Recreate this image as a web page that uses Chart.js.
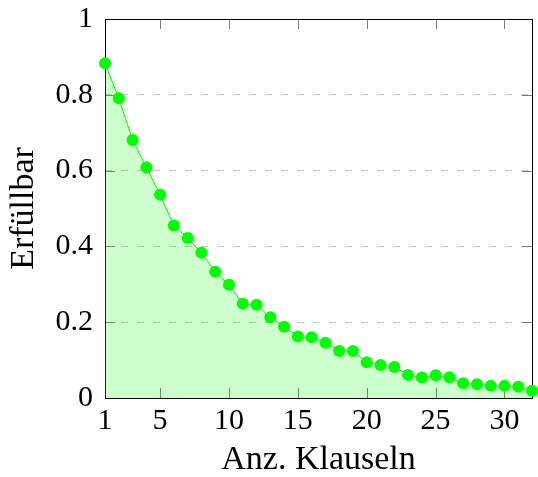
<!DOCTYPE html>
<html>
<head>
<meta charset="utf-8">
<script src="https://cdn.jsdelivr.net/npm/chart.js@4.4.0/dist/chart.umd.min.js"></script>
<style>
body { margin: 0; background: #fff; }
</style>
</head>
<body>
<canvas id="myChart" width="538" height="477"></canvas>
<script>
// Anteil erfuellbarer Formeln je Anzahl Klauseln
var clauses = [1, 2, 3, 4, 5, 6, 7, 8, 9, 10, 11, 12, 13, 14, 15, 16,
               17, 18, 19, 20, 21, 22, 23, 24, 25, 26, 27, 28, 29, 30, 31, 32];
var satisfiable = [0.883, 0.791, 0.681, 0.609, 0.536, 0.455, 0.422, 0.383, 0.333, 0.299, 0.249, 0.246, 0.213, 0.188, 0.162, 0.160,
                   0.146, 0.124, 0.124, 0.094, 0.087, 0.082, 0.061, 0.054, 0.060, 0.055, 0.039, 0.036, 0.032, 0.032, 0.030, 0.019];
var xTicks = [1, 5, 10, 15, 20, 25, 30];
var yTicks = [0, 0.2, 0.4, 0.6, 0.8, 1];

var serif = "'Liberation Serif', 'DejaVu Serif', serif";

var points = [];
for (var i = 0; i < clauses.length; i++) {
    points.push({ x: clauses[i], y: satisfiable[i] });
}

// box round the plot plus the small inward tick marks
var frame = {
    id: 'frame',
    beforeDatasetsDraw: function(chart) {
        var ctx = chart.ctx;
        var a = chart.chartArea;
        var xs = chart.scales.x, ys = chart.scales.y;
        var len = 10;
        ctx.save();
        ctx.strokeStyle = '#7a7a7a';
        ctx.lineWidth = 1;
        ctx.beginPath();
        xTicks.forEach(function(v) {
            if (v === xs.min || v === xs.max) return;
            var px = Math.round(xs.getPixelForValue(v)) + 0.5;
            ctx.moveTo(px, a.bottom); ctx.lineTo(px, a.bottom - len);
            ctx.moveTo(px, a.top); ctx.lineTo(px, a.top + len);
        });
        yTicks.forEach(function(v) {
            if (v === ys.min || v === ys.max) return;
            var py = Math.round(ys.getPixelForValue(v)) + 0.5;
            ctx.moveTo(a.left, py); ctx.lineTo(a.left + len, py);
            ctx.moveTo(a.right, py); ctx.lineTo(a.right - len, py);
        });
        ctx.stroke();
        ctx.strokeStyle = '#000';
        ctx.lineWidth = 1;
        ctx.strokeRect(Math.round(a.left) + 0.5, Math.round(a.top) + 0.5,
                       Math.round(a.right - a.left), Math.round(a.bottom - a.top));
        ctx.restore();
    }
};

var ctx = document.getElementById('myChart').getContext('2d');
var myLineChart = new Chart(ctx, {
    type: 'line',
    data: {
        datasets: [{
            label: 'Erfüllbar',
            data: points,
            borderColor: '#00ff00',
            borderWidth: 1,
            backgroundColor: 'rgba(0, 255, 0, 0.2)',
            fill: 'origin',
            pointRadius: 6,
            pointHoverRadius: 6,
            pointBackgroundColor: '#00ff00',
            pointBorderWidth: 0,
            tension: 0,
            clip: false
        }]
    },
    options: {
        responsive: false,
        animation: false,
        events: [],
        layout: { padding: { top: 19, right: 4, left: 0, bottom: 0 } },
        plugins: {
            legend: { display: false },
            tooltip: { enabled: false }
        },
        scales: {
            x: {
                type: 'linear',
                min: 1,
                max: 32,
                afterBuildTicks: function(scale) {
                    scale.ticks = xTicks.map(function(v) { return { value: v }; });
                },
                afterFit: function(scale) {
                    scale.height = 79;
                    scale.paddingLeft = 0;
                    scale.paddingRight = 0;
                },
                grid: { display: false, drawTicks: false },
                border: { display: false },
                ticks: {
                    color: '#000',
                    padding: 5,
                    maxRotation: 0,
                    autoSkip: false,
                    font: { family: serif, size: 30 },
                    callback: function(v) { return String(v); }
                },
                title: {
                    display: true,
                    text: 'Anz. Klauseln',
                    color: '#000',
                    padding: { top: 0, bottom: 0 },
                    font: { family: serif, size: 34, lineHeight: 1 }
                }
            },
            y: {
                type: 'linear',
                min: 0,
                max: 1,
                afterBuildTicks: function(scale) {
                    scale.ticks = yTicks.map(function(v) { return { value: v }; });
                },
                afterFit: function(scale) {
                    scale.width = 105;
                    scale.paddingTop = 0;
                    scale.paddingBottom = 0;
                },
                grid: {
                    drawTicks: false,
                    lineWidth: 1,
                    color: function(c) {
                        var v = c.tick ? c.tick.value : 0;
                        return (v > 0 && v < 1) ? '#c4c4c4' : 'rgba(0,0,0,0)';
                    }
                },
                border: { display: false, dash: [7, 9] },
                ticks: {
                    color: '#000',
                    padding: 12,
                    autoSkip: false,
                    font: { family: serif, size: 30 },
                    callback: function(v) { return String(Math.round(v * 10) / 10); }
                },
                title: {
                    display: true,
                    text: 'Erfüllbar',
                    color: '#000',
                    padding: { top: 4, bottom: 0 },
                    font: { family: serif, size: 34 }
                }
            }
        }
    },
    plugins: [frame]
});
</script>
</body>
</html>
